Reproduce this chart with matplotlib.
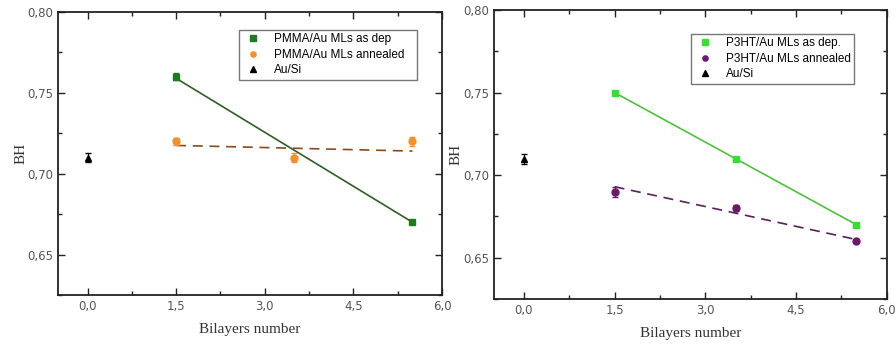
import matplotlib.pyplot as plt
from matplotlib.ticker import MultipleLocator, FuncFormatter

# left panel: PMMA/Au multilayers
pmma_dep_x = [1.5, 5.5]
pmma_dep_y = [0.760, 0.670]
pmma_dep_err = [0.002, 0.001]
pmma_dep_fit = [0.759, 0.670]

pmma_ann_x = [1.5, 3.5, 5.5]
pmma_ann_y = [0.720, 0.710, 0.720]
pmma_ann_err = [0.002, 0.003, 0.003]
pmma_ann_fit = [0.7175, 0.714]

# right panel: P3HT/Au multilayers
p3ht_dep_x = [1.5, 3.5, 5.5]
p3ht_dep_y = [0.750, 0.710, 0.670]
p3ht_dep_err = [0.001, 0.001, 0.001]
p3ht_dep_fit = [0.750, 0.670]

p3ht_ann_x = [1.5, 3.5, 5.5]
p3ht_ann_y = [0.690, 0.680, 0.660]
p3ht_ann_err = [0.003, 0.002, 0.001]
p3ht_ann_fit = [0.693, 0.661]

ausi_x = [0.0]
ausi_y = [0.710]
ausi_err = [0.003]

fit_x = [1.5, 5.5]


def comma(v, pos, nd):
    return f'{v:.{nd}f}'.replace('.', ',')


fig = plt.figure(figsize=(8.96, 3.45), dpi=100)
ax1 = fig.add_axes([0.0647, 0.1449, 0.4286, 0.8203])
ax2 = fig.add_axes([0.551, 0.1333, 0.4386, 0.8377])

panels = [
    (ax1, pmma_dep_x, pmma_dep_y, pmma_dep_err, pmma_dep_fit, '#1f7a1f', '#2f5f22', 's',
     'PMMA/Au MLs as dep',
     pmma_ann_x, pmma_ann_y, pmma_ann_err, pmma_ann_fit, '#f0922c', '#8a4a1a', 'o',
     'PMMA/Au MLs annealed', (0.456, 0.958, 0.494, 0.176)),
    (ax2, p3ht_dep_x, p3ht_dep_y, p3ht_dep_err, p3ht_dep_fit, '#35e035', '#4cc23a', 's',
     'P3HT/Au MLs as dep.',
     p3ht_ann_x, p3ht_ann_y, p3ht_ann_err, p3ht_ann_fit, '#6b1a6b', '#5a1f5a', 'o',
     'P3HT/Au MLs annealed', (0.487, 0.938, 0.445, 0.17)),
]

for (ax, dx, dy, de, dfit, dc, dlc, dm, dl,
     ax_, ay, ae, afit, ac, alc, am, al, lbox) in panels:
    ax.plot(fit_x, dfit, color=dlc, linewidth=1.2, zorder=2)
    ax.plot(fit_x, afit, color=alc, linewidth=1.2, linestyle=(0, (6, 4)), zorder=2)
    ax.errorbar(dx, dy, yerr=de, fmt='none', ecolor=dc, capsize=2, elinewidth=0.8, zorder=3)
    ax.errorbar(ax_, ay, yerr=ae, fmt='none', ecolor=ac, capsize=2, elinewidth=0.8, zorder=3)
    ax.errorbar(ausi_x, ausi_y, yerr=ausi_err, fmt='none', ecolor='black', capsize=2,
                elinewidth=0.8, zorder=3)
    ax.plot(dx, dy, dm, color=dc, markersize=5, label=dl, zorder=4)
    ax.plot(ax_, ay, am, color=ac, markersize=5, label=al, zorder=4)
    ax.plot(ausi_x, ausi_y, '^', color='black', markersize=5, label='Au/Si', zorder=4)

    ax.set_xlim(-0.5, 6.0)
    ax.set_ylim(0.625, 0.80)
    ax.xaxis.set_major_locator(MultipleLocator(1.5))
    ax.xaxis.set_minor_locator(MultipleLocator(0.75))
    ax.yaxis.set_major_locator(MultipleLocator(0.05))
    ax.yaxis.set_minor_locator(MultipleLocator(0.025))
    ax.xaxis.set_major_formatter(FuncFormatter(lambda v, p: comma(v, p, 1)))
    ax.yaxis.set_major_formatter(FuncFormatter(lambda v, p: comma(v, p, 2)))
    ax.tick_params(which='both', direction='in', top=True, right=True,
                   colors='#222222', labelcolor='#555555', labelsize=8.5, width=1)
    ax.tick_params(which='major', length=5)
    ax.tick_params(which='minor', length=3)
    for s in ax.spines.values():
        s.set_linewidth(1.3)
        s.set_color('#222222')

    ax.set_xlabel('Bilayers number', family='Liberation Serif', fontsize=11,
                  color='#333333', labelpad=7)
    ax.set_ylabel('BH', family='Liberation Serif', fontsize=11, color='#333333',
                  labelpad=0)

    leg = ax.legend(loc='upper left',
                    bbox_to_anchor=(lbox[0], lbox[1] - lbox[3], lbox[2], lbox[3]),
                    mode='expand', frameon=True, fancybox=False, markerscale=0.75,
                    handletextpad=0.9, borderpad=0.3, labelspacing=0.3,
                    handlelength=1.8, prop={'family': 'Liberation Sans', 'size': 8.5})
    leg.get_frame().set_edgecolor('#555555')
    leg.get_frame().set_linewidth(1.0)

fig.savefig('out.png', dpi=100)
